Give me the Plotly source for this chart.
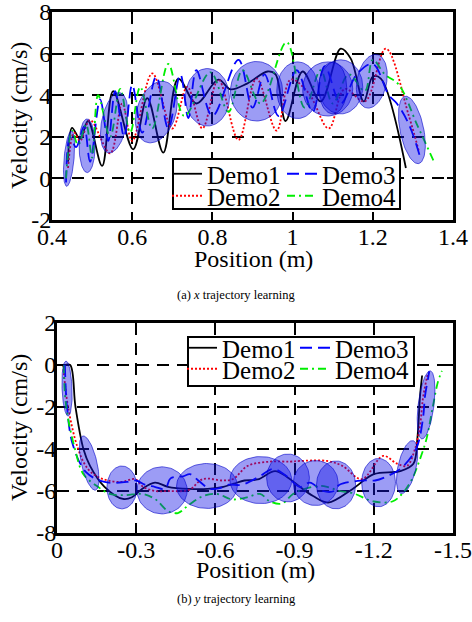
import numpy as np
import plotly.graph_objects as go

# ---------------- (a) x trajectory learning ----------------
a_demo1_pos = [0.44, 0.45, 0.47, 0.49, 0.525, 0.5525, 0.6025, 0.6375, 0.6775, 0.715, 0.76, 0.815,
               0.845, 0.8875, 0.9375, 0.9575, 0.9825, 1.025, 1.07, 1.12, 1.145, 1.1775, 1.20, 1.22, 1.2825]
a_demo1_vel = [0.8, 2.43, 1.9, 2.76, 0.6, 4.2, 1.4, 3.86, 1.24, 4.8, 3.6, 4.75,
               4.28, 4.57, 5.14, 5.0, 2.76, 5.14, 3.7, 6.24, 5.76, 3.7, 4.9, 4.8, 0.5]

a_demo2_pos = [0.44, 0.455, 0.47, 0.495, 0.545, 0.575, 0.60, 0.65, 0.70, 0.7375, 0.775, 0.815,
               0.865, 0.91, 0.96, 0.995, 1.04, 1.09, 1.13, 1.18, 1.2325, 1.29, 1.315]
a_demo2_vel = [0.5, 2.2, 1.8, 2.8, 1.2, 3.6, 1.8, 5.05, 2.4, 4.4, 2.4, 4.75,
               1.85, 4.8, 2.3, 4.75, 4.1, 2.4, 4.3, 3.7, 6.24, 3.0, 1.3]

a_demo3_pos = [0.435, 0.445, 0.46, 0.48, 0.495, 0.52, 0.54, 0.5575, 0.58, 0.60, 0.625, 0.66, 0.69,
               0.72, 0.74, 0.76, 0.80, 0.865, 0.90, 0.93, 0.965, 1.01, 1.05, 1.08, 1.12, 1.16,
               1.20, 1.24, 1.26, 1.29, 1.32]
a_demo3_vel = [-0.2, 2.0, 1.5, 2.5, 0.8, 3.8, 1.8, 4.2, 2.0, 4.5, 2.2, 4.9, 2.4,
               5.0, 2.9, 5.2, 3.0, 5.7, 3.4, 5.0, 3.0, 5.2, 3.2, 5.4, 3.6, 5.0,
               5.5, 4.0, 3.6, 2.6, 0.9]

a_demo4_pos = [0.435, 0.45, 0.465, 0.485, 0.50, 0.515, 0.545, 0.57, 0.595, 0.62, 0.65, 0.69, 0.73,
               0.795, 0.84, 0.875, 0.92, 0.985, 1.03, 1.07, 1.10, 1.14, 1.18, 1.20, 1.23, 1.265,
               1.31, 1.355]
a_demo4_vel = [0.0, 2.3, 1.6, 2.6, 1.0, 4.0, 2.0, 4.3, 2.2, 4.4, 2.4, 5.5, 3.0,
               5.1, 3.2, 5.2, 3.6, 6.55, 3.4, 5.2, 3.6, 5.0, 4.2, 5.7, 5.0, 4.5,
               2.6, 0.7]

# Gaussian components: centre, half-width, half-height, shear of top point
a_ell_cx = [0.4425, 0.4875, 0.555, 0.66, 0.7875, 0.91, 1.0125, 1.0875, 1.12, 1.10, 1.1975, 1.2975]
a_ell_cy = [0.95, 1.57, 2.67, 3.19, 3.9, 4.19, 4.24, 4.3, 4.4, 4.35, 4.67, 2.33]
a_ell_rx = [0.0125, 0.02, 0.032, 0.05, 0.055, 0.065, 0.052, 0.0625, 0.055, 0.035, 0.0375, 0.03]
a_ell_ry = [1.33, 1.29, 1.45, 1.48, 1.38, 1.43, 1.36, 1.3, 1.3, 1.25, 1.29, 1.62]
a_ell_k = [0.006, 0.0, 0.012, 0.015, 0.0, 0.0, 0.0, 0.0, 0.0, 0.0, 0.009, -0.015]

a_xticks = [0.4, 0.6, 0.8, 1.0, 1.2, 1.4]
a_xticktext = ["0.4", "0.6", "0.8", "1", "1.2", "1.4"]
a_yticks = [-2, 0, 2, 4, 6, 8]
a_yticktext = ["-2", "0", "2", "4", "6", "8"]

# ---------------- (b) y trajectory learning ----------------
b_demo1_pos = [-0.03, -0.05, -0.07, -0.10, -0.125, -0.18, -0.25, -0.284, -0.322, -0.371, -0.42, -0.50,
               -0.57, -0.63, -0.67, -0.71, -0.76, -0.826, -0.871, -0.92, -0.97, -1.027, -1.12, -1.20,
               -1.30, -1.35, -1.365, -1.375, -1.383]
b_demo1_vel = [0.0, 0.0, -2.0, -4.0, -4.8, -5.8, -6.38, -6.3, -5.9, -5.6, -5.8, -5.9,
               -5.9, -5.8, -5.65, -5.5, -5.45, -5.05, -5.33, -5.8, -6.24, -6.55, -5.9, -5.2,
               -5.05, -4.7, -3.5, -1.5, -0.5]

b_demo2_pos = [-0.023, -0.042, -0.08, -0.117, -0.155, -0.193, -0.246, -0.295, -0.326, -0.371, -0.42,
               -0.50, -0.553, -0.629, -0.667, -0.723, -0.807, -0.883, -0.92, -1.023, -1.08, -1.155,
               -1.235, -1.288, -1.326, -1.356, -1.375, -1.386, -1.40, -1.405]
b_demo2_vel = [0.0, -2.0, -4.0, -4.95, -5.33, -5.5, -5.57, -5.43, -5.8, -6.0, -6.0,
               -5.95, -5.43, -5.5, -5.43, -4.8, -4.6, -4.6, -4.57, -4.57, -4.8, -5.43,
               -4.33, -4.7, -4.8, -4.0, -2.9, -1.6, -0.67, -0.43]

b_demo3_pos = [-0.03, -0.038, -0.06, -0.11, -0.18, -0.265, -0.30, -0.333, -0.37, -0.41, -0.43, -0.477,
               -0.504, -0.535, -0.58, -0.62, -0.65, -0.70, -0.768, -0.818, -0.87, -0.92, -0.958,
               -1.007, -1.05, -1.07, -1.16, -1.205, -1.25, -1.30, -1.36, -1.386, -1.394, -1.405, -1.41]
b_demo3_vel = [0.0, -2.0, -3.8, -5.1, -5.57, -5.57, -5.5, -5.7, -5.8, -5.9, -5.4, -5.3,
               -5.2, -5.5, -5.9, -5.85, -5.7, -5.7, -5.3, -4.95, -5.3, -5.8, -5.6,
               -6.0, -6.0, -5.7, -5.5, -5.5, -5.3, -4.95, -4.0, -2.57, -1.48, -0.67, -0.3]

b_demo4_pos = [-0.025, -0.035, -0.068, -0.10, -0.155, -0.20, -0.258, -0.322, -0.371, -0.42, -0.458,
               -0.496, -0.553, -0.606, -0.663, -0.72, -0.769, -0.807, -0.852, -0.894, -0.939, -0.989,
               -1.023, -1.07, -1.12, -1.20, -1.27, -1.307, -1.345, -1.375, -1.40, -1.424, -1.443, -1.458]
b_demo4_vel = [0.0, -2.0, -4.0, -5.2, -5.8, -6.14, -6.2, -6.14, -6.38, -6.95, -7.05,
               -6.7, -6.24, -6.14, -6.4, -6.3, -6.14, -6.5, -6.6, -6.14, -5.9, -5.76,
               -5.8, -6.0, -6.1, -6.5, -6.5, -6.14, -5.43, -4.48, -3.5, -1.95, -0.8, -0.28]

b_ell_cx = [-0.038, -0.122, -0.246, -0.398, -0.568, -0.772, -0.875, -0.98, -1.057, -1.218, -1.326, -1.398]
b_ell_cy = [-1.12, -4.67, -5.83, -5.97, -5.76, -5.48, -5.38, -5.62, -5.71, -5.6, -4.86, -1.9]
b_ell_rx = [0.019, 0.03, 0.057, 0.095, 0.115, 0.117, 0.081, 0.085, 0.074, 0.064, 0.035, 0.03]
b_ell_ry = [1.31, 1.29, 1.02, 1.12, 1.07, 1.12, 1.14, 1.07, 1.14, 1.15, 1.26, 1.62]
b_ell_k = [0.004, 0.022, 0.0, 0.0, 0.0, 0.0, 0.0, 0.0, 0.0, 0.0, -0.02, -0.015]

b_xticks = [0, -0.3, -0.6, -0.9, -1.2, -1.5]
b_xticktext = ["0", "-0.3", "-0.6", "-0.9", "-1.2", "-1.5"]
b_yticks = [-8, -6, -4, -2, 0, 2]
b_yticktext = ["-8", "-6", "-4", "-2", "0", "2"]

demo_names = ["Demo1", "Demo2", "Demo3", "Demo4"]
demo_colors = ["black", "#ff0000", "#0000ff", "#00ee00"]
demo_dash = ["solid", "2px,2px", "12px,6px", "8px,4px,2px,4px"]

x_title = "Position (m)"
y_title = "Velocity (cm/s)"
captions = ["(a) <i>x</i> trajectory learning", "(b) <i>y</i> trajectory learning"]

# ---------------- figure ----------------
W, H = 472, 622
fig = go.Figure()
FONT = "Liberation Serif"


def px(x):
    return x / W


def py(y):
    return 1 - y / H


top_legends = ["legend", "legend2", "legend3", "legend4"]
bot_legends = ["legend5", "legend6", "legend7", "legend8"]

panels = [
    ("x", "y", [(a_demo1_pos, a_demo1_vel), (a_demo2_pos, a_demo2_vel),
                (a_demo3_pos, a_demo3_vel), (a_demo4_pos, a_demo4_vel)],
     (a_ell_cx, a_ell_cy, a_ell_rx, a_ell_ry, a_ell_k), top_legends),
    ("x2", "y2", [(b_demo1_pos, b_demo1_vel), (b_demo2_pos, b_demo2_vel),
                  (b_demo3_pos, b_demo3_vel), (b_demo4_pos, b_demo4_vel)],
     (b_ell_cx, b_ell_cy, b_ell_rx, b_ell_ry, b_ell_k), bot_legends),
]

t = np.linspace(0, 2 * np.pi, 90)
for xa, ya, demos, ell, legs in panels:
    for i, (xs, vs) in enumerate(demos):
        fig.add_trace(go.Scatter(
            x=xs, y=vs, mode="lines", name=demo_names[i], xaxis=xa, yaxis=ya,
            line=dict(color=demo_colors[i], width=1.8, dash=demo_dash[i], shape="spline", smoothing=1.0),
            legend=legs[i], showlegend=True))
    for cx, cy, rx, ry, k in zip(*ell):
        ex = cx + rx * np.cos(t) + k * np.sin(t)
        ey = cy + ry * np.sin(t)
        fig.add_trace(go.Scatter(
            x=ex, y=ey, mode="lines", fill="toself", xaxis=xa, yaxis=ya,
            fillcolor="rgba(20,20,230,0.42)", line=dict(color="rgba(0,0,200,0.6)", width=1),
            showlegend=False, hoverinfo="skip"))

axis_common = dict(
    showline=True, linewidth=3, linecolor="black", mirror="ticks",
    ticks="inside", ticklen=6, tickwidth=2, tickcolor="black",
    showgrid=True, gridcolor="black", gridwidth=1.5, griddash="12px,8px",
    zeroline=False, tickfont=dict(family=FONT, size=24, color="black"),
    automargin=False, ticklabeloverflow="allow",
)
title_font = dict(family=FONT, size=24, color="black")

fig.update_layout(
    width=W, height=H, margin=dict(l=0, r=0, t=0, b=0),
    paper_bgcolor="white", plot_bgcolor="white",
    font=dict(family=FONT, color="black"),
    xaxis=dict(axis_common, domain=[px(52), px(453)], range=[0.4, 1.4], tickmode="array",
               tickvals=a_xticks, ticktext=a_xticktext, anchor="y", ticklabelstandoff=-7),
    yaxis=dict(axis_common, domain=[py(220), py(12)], range=[-2, 8], tickmode="array",
               tickvals=a_yticks, ticktext=a_yticktext, anchor="x", ticklabelstandoff=-7),
    xaxis2=dict(axis_common, domain=[px(57), px(453)], range=[0, -1.5], tickmode="array",
                tickvals=b_xticks, ticktext=b_xticktext, anchor="y2", ticklabelstandoff=-7),
    yaxis2=dict(axis_common, domain=[py(533), py(323)], range=[-8, 2], tickmode="array",
                tickvals=b_yticks, ticktext=b_yticktext, anchor="x2", ticklabelstandoff=-7),
)

# axis titles
for (xc, yc) in [(253, 259), (255, 570)]:
    fig.add_annotation(x=px(xc), y=py(yc), xref="paper", yref="paper", showarrow=False,
                       text=x_title, font=title_font, xanchor="center", yanchor="middle")
for (xc, yc) in [(19, 116), (19, 428)]:
    fig.add_annotation(x=px(xc), y=py(yc), xref="paper", yref="paper", showarrow=False,
                       text=y_title, font=title_font, textangle=-90, xanchor="center", yanchor="middle")

# legend boxes
fig.add_shape(type="rect", xref="paper", yref="paper", x0=px(173), x1=px(400), y0=py(209), y1=py(159),
              fillcolor="white", line=dict(color="black", width=2), layer="above")
fig.add_shape(type="rect", xref="paper", yref="paper", x0=px(188), x1=px(414), y0=py(386), y1=py(337),
              fillcolor="white", line=dict(color="black", width=2), layer="above")

leg_common = dict(bgcolor="rgba(0,0,0,0)", borderwidth=0, font=dict(family=FONT, size=25, color="black"),
                  xanchor="left", yanchor="middle", xref="paper", yref="paper", itemwidth=30)
leg_pos = {
    "legend": (167, 174), "legend2": (167, 196), "legend3": (282, 174), "legend4": (282, 196),
    "legend5": (182, 348), "legend6": (182, 369), "legend7": (295, 348), "legend8": (295, 369),
}
for name, (lx, ly) in leg_pos.items():
    fig.update_layout({name: dict(leg_common, x=px(lx), y=py(ly))})

fig.add_annotation(x=px(236), y=py(295), xref="paper", yref="paper", showarrow=False,
                   text=captions[0], font=dict(family=FONT, size=12.5, color="black"))
fig.add_annotation(x=px(236), y=py(608), xref="paper", yref="paper", showarrow=False,
                   text=captions[1], font=dict(family=FONT, size=12.5, color="black"))

fig.write_html("out.html")
